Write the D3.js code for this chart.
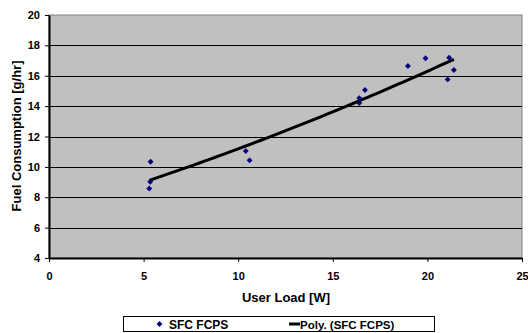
<!DOCTYPE html>
<html>
<head>
<meta charset="utf-8">
<script src="https://cdn.jsdelivr.net/npm/d3@7/dist/d3.min.js"></script>
<style>
  html, body { margin: 0; padding: 0; background: #fff; }
  svg { display: block; font-family: Arial, "Liberation Sans", sans-serif; }
</style>
</head>
<body>
<svg id="chart" width="528" height="333"></svg>
<script>
// Measured user load [W] and fuel consumption [g/hr]
const userLoad = [5.37, 5.35, 5.30, 10.40, 10.60, 16.40, 16.40, 16.70, 18.97, 19.90, 21.15, 21.40, 21.07];
const fuelRate = [10.34, 9.02, 8.58, 11.04, 10.43, 14.53, 14.20, 15.06, 16.64, 17.15, 17.19, 16.38, 15.76];
const xTicks = [0, 5, 10, 15, 20, 25];
const yTicks = [4, 6, 8, 10, 12, 14, 16, 18, 20];
const seriesName = "SFC FCPS";
const trendName = "Poly. (SFC FCPS)";

(function () {
const svg = d3.select("#chart");
const plotL = 49, plotR = 522, plotT = 15, plotB = 258;

const x = d3.scaleLinear().domain([0, 25]).range([plotL, plotR]);
const y = d3.scaleLinear().domain([4, 20]).range([plotB, plotT]);

// plot area
svg.append("rect")
  .attr("x", plotL).attr("y", plotT)
  .attr("width", plotR - plotL).attr("height", plotB - plotT)
  .attr("fill", "#c0c0c0").attr("stroke", "#808080").attr("stroke-width", 1);

// horizontal gridlines
svg.append("g").selectAll("line")
  .data(yTicks.filter(v => v > 4 && v < 20))
  .join("line")
  .attr("x1", plotL).attr("x2", plotR)
  .attr("y1", d => Math.round(y(d)) + 0.5).attr("y2", d => Math.round(y(d)) + 0.5)
  .attr("stroke", "#000").attr("stroke-width", 1);

// axes
const yAxis = svg.append("g")
  .attr("transform", `translate(${plotL},0)`)
  .call(d3.axisLeft(y).tickValues(yTicks).tickSize(4).tickPadding(5).tickSizeOuter(0));
const xAxis = svg.append("g")
  .attr("transform", `translate(0,${plotB})`)
  .call(d3.axisBottom(x).tickValues(xTicks).tickSize(4).tickPadding(10).tickSizeOuter(0));

[yAxis, xAxis].forEach(g => {
  g.select(".domain").attr("stroke", "#000").attr("stroke-width", 2);
  g.selectAll(".tick line").attr("stroke", "#000");
  g.selectAll("text")
    .attr("font-family", "Arial, 'Liberation Sans', sans-serif")
    .attr("font-size", 11).attr("font-weight", "bold").attr("fill", "#000");
});

// quadratic least-squares trendline through the measurements
function polyFit2(xs, ys) {
  const n = xs.length;
  const s = [0, 0, 0, 0, 0], t = [0, 0, 0];
  for (let i = 0; i < n; i++) {
    let p = 1;
    for (let k = 0; k < 5; k++) { s[k] += p; if (k < 3) t[k] += p * ys[i]; p *= xs[i]; }
  }
  const A = [[s[0], s[1], s[2], t[0]], [s[1], s[2], s[3], t[1]], [s[2], s[3], s[4], t[2]]];
  for (let c = 0; c < 3; c++) {
    for (let r = c + 1; r < 3; r++) {
      const f = A[r][c] / A[c][c];
      for (let k = c; k < 4; k++) A[r][k] -= f * A[c][k];
    }
  }
  const b = [0, 0, 0];
  for (let r = 2; r >= 0; r--) {
    let v = A[r][3];
    for (let k = r + 1; k < 3; k++) v -= A[r][k] * b[k];
    b[r] = v / A[r][r];
  }
  return xv => b[0] + b[1] * xv + b[2] * xv * xv;
}
const fit = polyFit2(userLoad, fuelRate);
const [xmin, xmax] = d3.extent(userLoad);
const trendPts = d3.range(0, 61).map(i => xmin + (xmax - xmin) * i / 60);

svg.append("path")
  .datum(trendPts)
  .attr("fill", "none").attr("stroke", "#000").attr("stroke-width", 3)
  .attr("d", d3.line().x(d => x(d)).y(d => y(fit(d))));

// data markers
const diamond = d3.symbol().type(d3.symbolDiamond2).size(22);
svg.append("g").selectAll("path")
  .data(userLoad.map((v, i) => [v, fuelRate[i]]))
  .join("path")
  .attr("transform", d => `translate(${x(d[0])},${y(d[1])})`)
  .attr("d", diamond)
  .attr("fill", "#000080");

// axis titles
svg.append("text")
  .attr("x", 286).attr("y", 302)
  .attr("text-anchor", "middle")
  .attr("font-size", 13).attr("font-weight", "bold")
  .text("User Load [W]");
svg.append("text")
  .attr("transform", "translate(21,136) rotate(-90)")
  .attr("text-anchor", "middle")
  .attr("font-size", 13).attr("font-weight", "bold")
  .text("Fuel Consumption [g/hr]");

// legend
const lg = svg.append("g");
lg.append("rect")
  .attr("x", 123.5).attr("y", 316.5).attr("width", 311).attr("height", 15)
  .attr("fill", "#fff").attr("stroke", "#000").attr("stroke-width", 1);
lg.append("path")
  .attr("transform", "translate(159.5,324)")
  .attr("d", diamond).attr("fill", "#000080");
lg.append("text")
  .attr("x", 169).attr("y", 328.5).attr("font-size", 12).attr("font-weight", "bold")
  .text(seriesName);
lg.append("line")
  .attr("x1", 289).attr("x2", 300).attr("y1", 324).attr("y2", 324)
  .attr("stroke", "#000").attr("stroke-width", 3);
lg.append("text")
  .attr("x", 300).attr("y", 328.5).attr("font-size", 11.5).attr("font-weight", "bold")
  .text(trendName);
})();
</script>
</body>
</html>
